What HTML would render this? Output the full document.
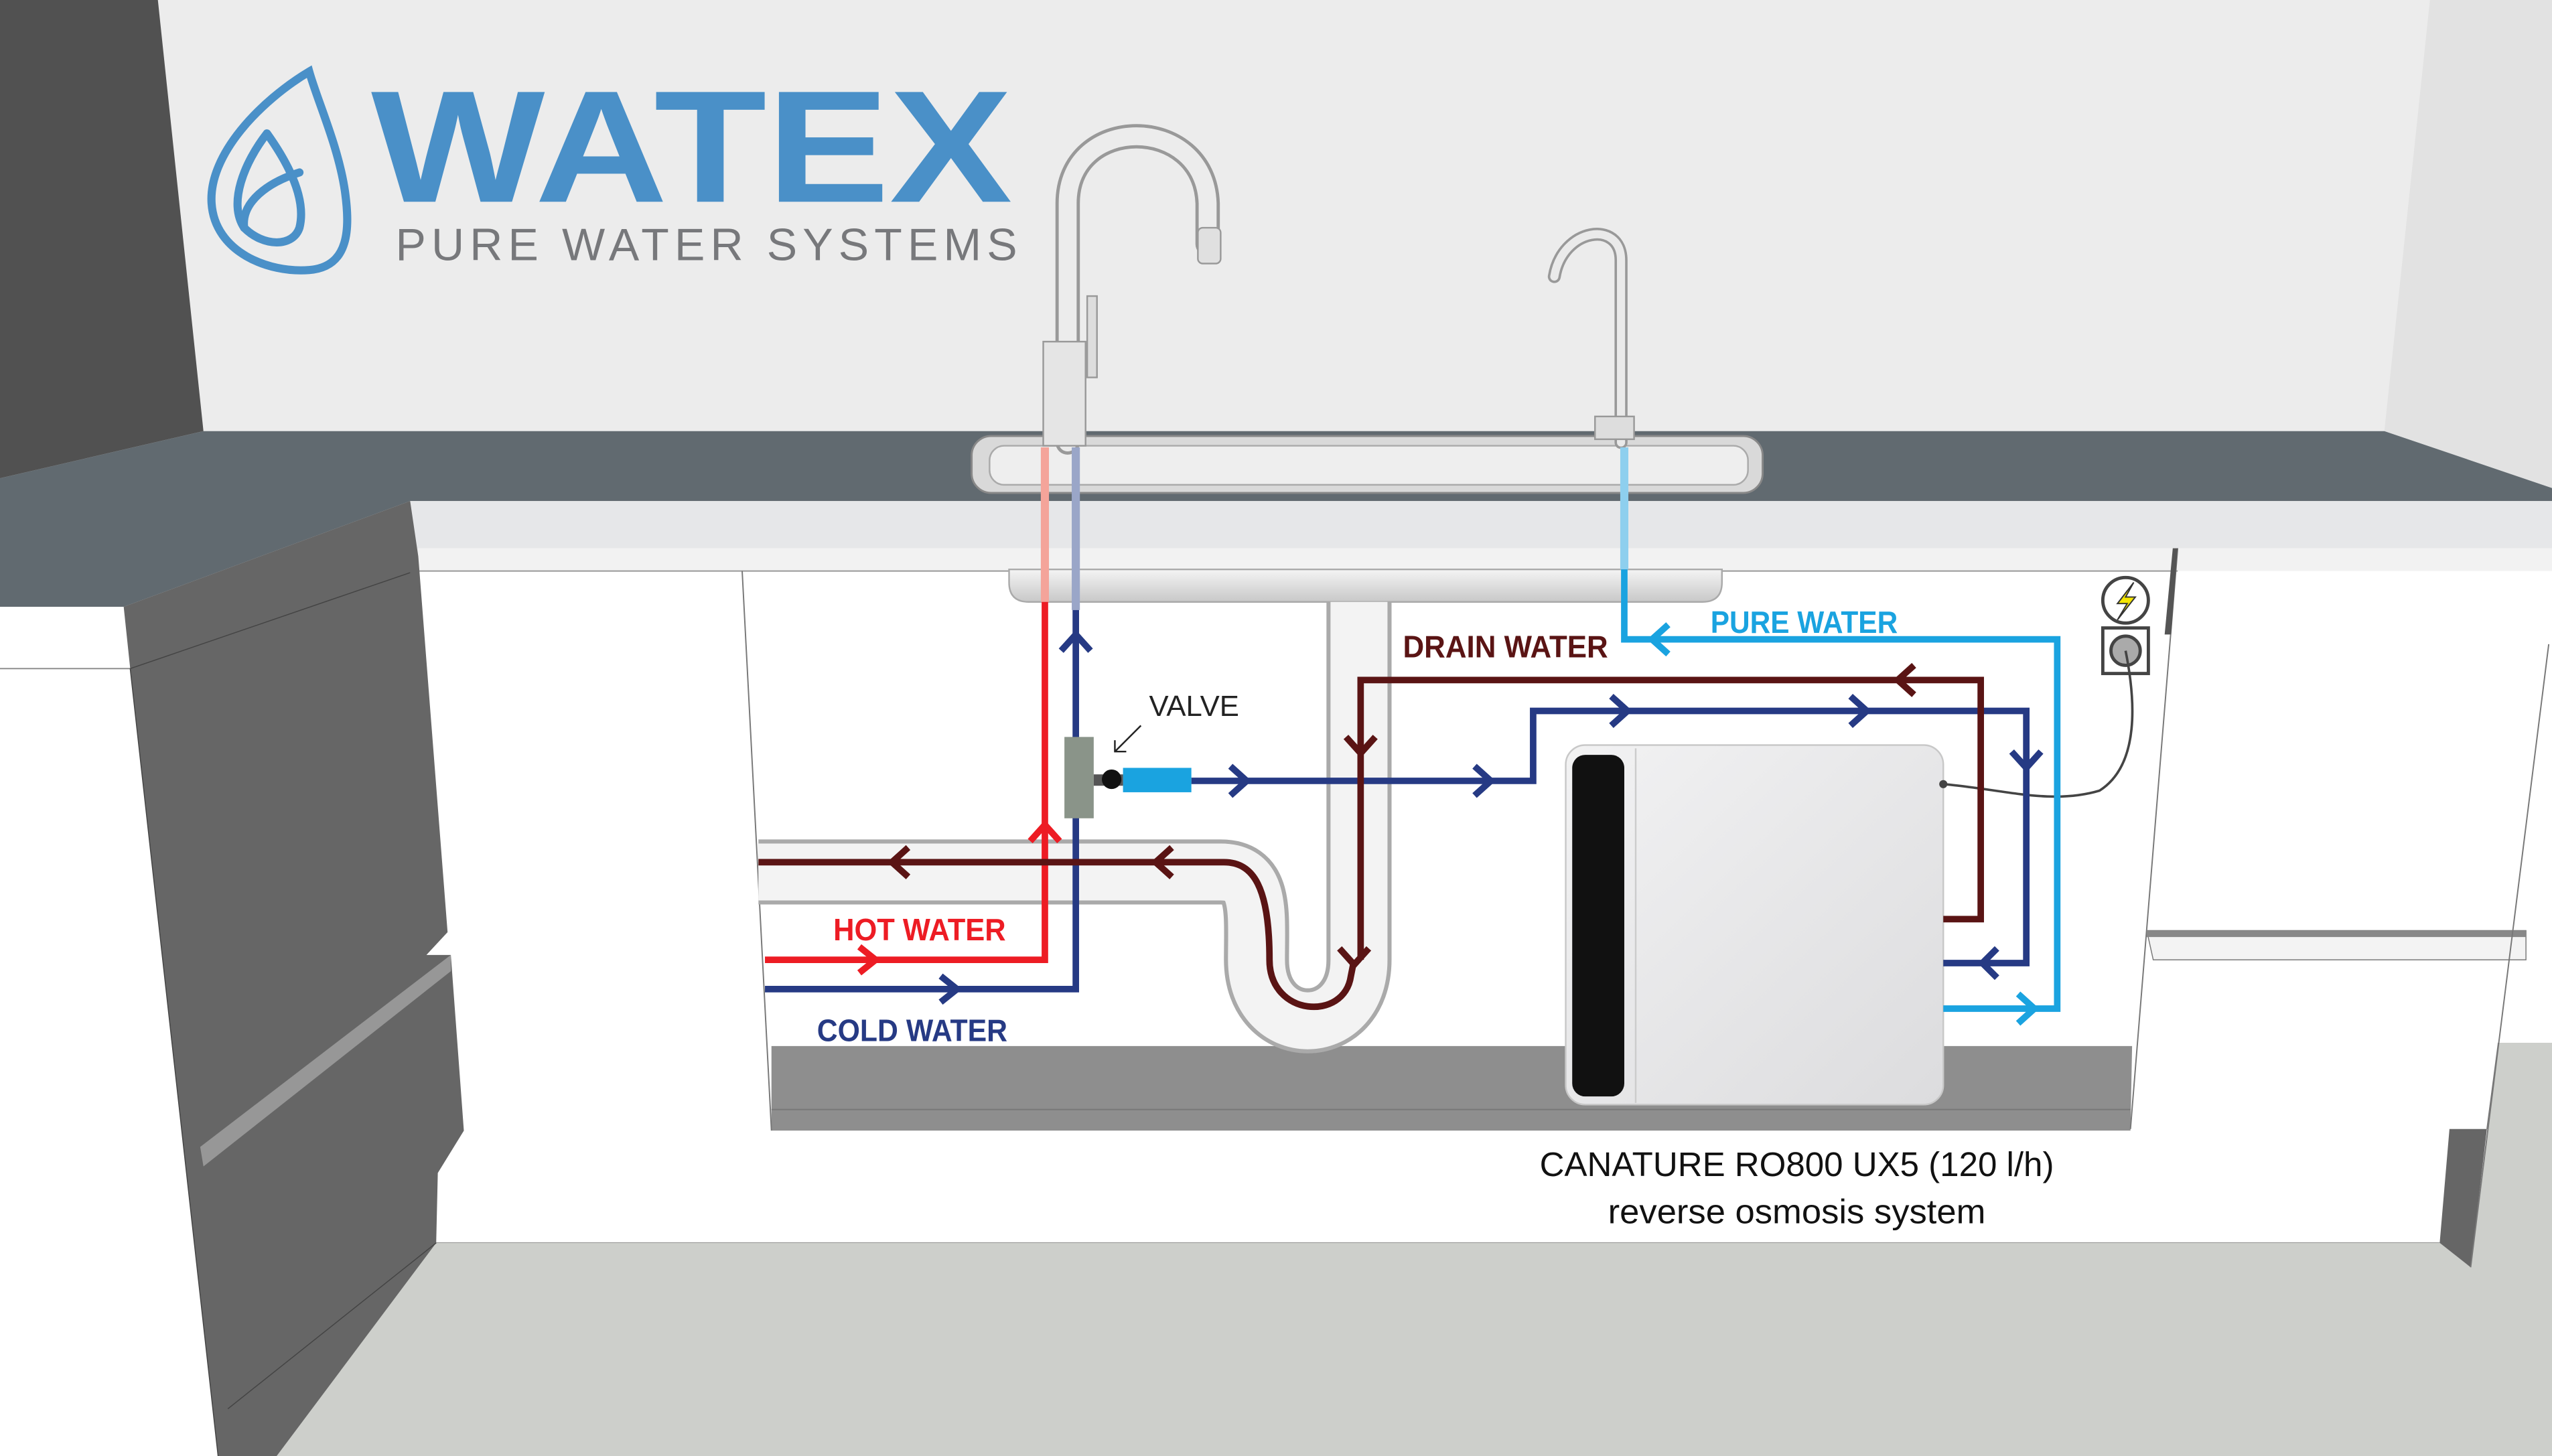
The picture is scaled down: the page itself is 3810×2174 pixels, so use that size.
<!DOCTYPE html>
<html><head><meta charset="utf-8"><style>html,body{margin:0;padding:0;background:#fff}svg{display:block}</style></head>
<body>
<svg width="3810" height="2174" viewBox="0 0 1568 895" preserveAspectRatio="none" xmlns="http://www.w3.org/2000/svg" font-family="'Liberation Sans', sans-serif">
<defs>
<linearGradient id="ro" x1="0" y1="0" x2="1" y2="1"><stop offset="0" stop-color="#f2f2f3"/><stop offset="1" stop-color="#dcdcde"/></linearGradient>
<linearGradient id="basin" x1="0" y1="0" x2="0" y2="1"><stop offset="0" stop-color="#f4f4f4"/><stop offset="1" stop-color="#c8c8c8"/></linearGradient>
</defs>
<rect x="0" y="0" width="1568" height="895" fill="#ececec"/>
<polygon points="1493,0 1568,0 1568,300 1465,265" fill="#e2e2e2"/>
<polygon points="0,0 97,0 125,265 0,294" fill="#515151"/>
<rect x="0" y="373" width="1568" height="522" fill="#ffffff"/>
<polygon points="125,265 1465,265 1568,300 1568,308 252,308 76,373 0,373 0,294" fill="#616a70"/>
<rect x="252" y="308" width="1316" height="29" fill="#e6e7e9"/>
<rect x="257" y="337" width="1311" height="14" fill="#f2f2f2"/>
<rect x="257" y="351" width="1311" height="22" fill="#ffffff"/>
<line x1="257" y1="351" x2="1338" y2="351" stroke="#999" stroke-width="0.8"/>
<line x1="0" y1="411" x2="80" y2="411" stroke="#888" stroke-width="0.8"/>
<path d="M620,350 L1058,350 L1058,358 Q1058,370 1046,370 L632,370 Q620,370 620,358 Z" fill="url(#basin)" stroke="#aaa" stroke-width="1"/>
<polygon points="474,643 1310,643 1309,695 474,695" fill="#8e8e8e"/>
<line x1="474" y1="682" x2="1309" y2="682" stroke="#777" stroke-width="0.8"/>
<line x1="456" y1="351" x2="474" y2="695" stroke="#777" stroke-width="0.8"/>
<polygon points="266,695 1505,695 1499,764 266,764" fill="#ffffff"/>
<line x1="266" y1="764" x2="1499" y2="764" stroke="#888" stroke-width="0.8"/>
<polygon points="170,895 266,764 1499,764 1518,779 1535,641 1568,641 1568,895" fill="#cdcfcb"/>
<polygon points="76,373 252,308 257,342 275,573 262,587 277,587 285,695 269,721 268,764 170,895 134,895 80,411" fill="#666"/>
<line x1="80" y1="411" x2="252" y2="352" stroke="#444" stroke-width="0.6"/>
<polygon points="123,705 277,587 277,597 125,717" fill="#979797"/>
<line x1="140" y1="866" x2="268" y2="764" stroke="#444" stroke-width="0.6"/>
<line x1="80" y1="411" x2="134" y2="895" stroke="#444" stroke-width="0.6"/>
<line x1="1338" y1="337" x2="1309" y2="694" stroke="#777" stroke-width="0.8"/>
<polygon points="1335,337 1338,337 1334,390 1330,390" fill="#555"/>
<polygon points="1319,572 1552,572 1552,590 1323,590" fill="#f3f3f3" stroke="#777" stroke-width="0.6"/>
<polygon points="1319,572 1552,572 1552,576 1319,576" fill="#888"/>
<polygon points="1505,694 1528,694 1518,779 1499,764" fill="#666"/>
<line x1="1566" y1="396" x2="1518" y2="779" stroke="#777" stroke-width="0.8"/>
<line x1="1528" y1="694" x2="1535" y2="641" stroke="#777" stroke-width="0.6"/>
<g fill="none" stroke="#4a90c8" stroke-width="5" stroke-linecap="round">
<path d="M190,44 C160,62 128,95 130,125 C132,155 165,168 190,166 C215,164 215,140 212,118 C208,90 195,62 190,44 Z"/>
<path d="M164,82 C150,100 140,125 150,140 C162,152 180,152 184,140 C187,128 184,110 164,82"/>
<path d="M184,106 C165,112 148,124 150,140"/>
</g>
<text x="228" y="124" font-size="98" font-weight="bold" fill="#4a90c8" textLength="394" lengthAdjust="spacingAndGlyphs">WATEX</text>
<text x="243" y="160" font-size="28" fill="#77787b" textLength="382" lengthAdjust="spacing">PURE WATER SYSTEMS</text>
<rect x="597" y="268" width="486" height="35" rx="12" fill="#d9d9d9" stroke="#888" stroke-width="1.2"/>
<rect x="608" y="274" width="466" height="24" rx="9" fill="#eeeeee" stroke="#aaa" stroke-width="1"/>
<g fill="none" stroke-linecap="round">
<path d="M656,272 L656,125 C656,70 740,70 742,125 L742,150" stroke="#999" stroke-width="15"/>
<path d="M656,272 L656,125 C656,70 740,70 742,125 L742,150" stroke="#ececec" stroke-width="11"/>
</g>
<rect x="641" y="210" width="26" height="64" fill="#e5e5e5" stroke="#999"/>
<rect x="668" y="182" width="6" height="50" fill="#ddd" stroke="#999"/>
<rect x="736" y="140" width="14" height="22" rx="3" fill="#e0e0e0" stroke="#999"/>
<g fill="none" stroke-linecap="round">
<path d="M996,272 L996,160 C996,135 960,140 955,170" stroke="#999" stroke-width="8"/>
<path d="M996,272 L996,160 C996,135 960,140 955,170" stroke="#eaeaea" stroke-width="5"/>
</g>
<rect x="980" y="256" width="24" height="14" fill="#ddd" stroke="#999"/>
<g fill="none" stroke-linejoin="round">
<path d="M466,536 L750,536 C775,536 772,560 772,590 C772,640 835,640 835,590 L835,370" stroke="#aaa" stroke-width="40"/>
<path d="M466,536 L750,536 C775,536 772,560 772,590 C772,640 835,640 835,590 L835,370" stroke="#f3f3f3" stroke-width="35"/>
</g>
<rect x="962" y="458" width="232" height="221" rx="12" fill="url(#ro)" stroke="#c8c8c8"/>
<rect x="966" y="464" width="32" height="210" rx="8" fill="#111"/>
<line x1="1005" y1="460" x2="1005" y2="678" stroke="#ccc"/>
<circle cx="1306" cy="369" r="14" fill="#fff" stroke="#444" stroke-width="2"/>
<path d="M1311,358 L1301,371 L1307,371 L1301,381 L1312,367 L1306,367 Z" fill="#f5e600" stroke="#333" stroke-width="0.8"/>
<rect x="1292" y="386" width="28" height="28" fill="#fff" stroke="#444" stroke-width="2"/>
<circle cx="1306" cy="400" r="9" fill="#aaa" stroke="#444" stroke-width="2"/>
<path d="M1306,400 C1312,430 1315,470 1290,486 C1260,495 1230,485 1194,482" fill="none" stroke="#444" stroke-width="1.5"/>
<circle cx="1194" cy="482" r="2.5" fill="#444"/>
<g fill="none" stroke-width="4" stroke-linejoin="miter">
<path d="M642,275 L642,370" stroke="#f4a49a" stroke-width="5"/>
<path d="M661,275 L661,375" stroke="#9aa6c8" stroke-width="5"/>
<path d="M998,275 L998,350" stroke="#8ecfee" stroke-width="5"/>
<path d="M470,590 L642,590 L642,370" stroke="#ed1c24"/>
<path d="M470,608 L661,608 L661,375" stroke="#263a84"/>
<path d="M732,480 L942,480 L942,437 L1245,437 L1245,592 L1194,592" stroke="#263a84"/>
<path d="M998,350 L998,393 L1264,393 L1264,620 L1194,620" stroke="#1aa3e0"/>
<path d="M1194,565 L1217,565 L1217,418 L836,418 L836,590" stroke="#5a1414"/>
<path d="M466,530 L752,530 C770,530 780,545 780,590 C780,625 826,628 830,600 L832,590" stroke="#5a1414"/>
</g>
<g fill="none" stroke-width="4">
<path d="M633,517 L642,507 L651,517" stroke="#ed1c24"/>
<path d="M528,582 L538,590 L528,598" stroke="#ed1c24"/>
<path d="M652,400 L661,390 L670,400" stroke="#263a84"/>
<path d="M578,600 L588,608 L578,616" stroke="#263a84"/>
<path d="M756,471 L766,480 L756,489" stroke="#263a84"/>
<path d="M906,471 L916,480 L906,489" stroke="#263a84"/>
<path d="M990,428 L1000,437 L990,446" stroke="#263a84"/>
<path d="M1137,428 L1147,437 L1137,446" stroke="#263a84"/>
<path d="M1236,462 L1245,472 L1254,462" stroke="#263a84"/>
<path d="M1227,583 L1218,592 L1227,601" stroke="#263a84"/>
<path d="M1025,384 L1015,393 L1025,402" stroke="#1aa3e0"/>
<path d="M1240,611 L1250,620 L1240,629" stroke="#1aa3e0"/>
<path d="M1176,409 L1166,418 L1176,427" stroke="#5a1414"/>
<path d="M827,453 L836,463 L845,453" stroke="#5a1414"/>
<path d="M823,583 L832,593 L841,583" stroke="#5a1414"/>
<path d="M558,521 L548,530 L558,539" stroke="#5a1414"/>
<path d="M720,521 L710,530 L720,539" stroke="#5a1414"/>
</g>
<rect x="654" y="453" width="18" height="50" fill="#8a9489"/>
<rect x="690" y="472" width="42" height="15" fill="#1aa3e0"/>
<rect x="672" y="476" width="18" height="7" fill="#555"/>
<circle cx="683" cy="479" r="6" fill="#111"/>
<text x="706" y="440" font-size="18" fill="#222">VALVE</text>
<path d="M701,446 L685,462 M685,455 L685,462 L692,462" fill="none" stroke="#222" stroke-width="1"/>
<g font-weight="bold" font-size="19">
<text x="862" y="404" fill="#5a1414" textLength="126" lengthAdjust="spacingAndGlyphs">DRAIN WATER</text>
<text x="1051" y="389" fill="#1aa3e0" textLength="115" lengthAdjust="spacingAndGlyphs">PURE WATER</text>
<text x="512" y="578" fill="#ed1c24" textLength="106" lengthAdjust="spacingAndGlyphs">HOT WATER</text>
<text x="502" y="640" fill="#263a84" textLength="117" lengthAdjust="spacingAndGlyphs">COLD WATER</text>
</g>
<text x="1104" y="723" font-size="21" fill="#111" text-anchor="middle" textLength="316" lengthAdjust="spacingAndGlyphs">CANATURE RO800 UX5 (120 l/h)</text>
<text x="1104" y="752" font-size="21" fill="#111" text-anchor="middle" textLength="232" lengthAdjust="spacingAndGlyphs">reverse osmosis system</text>
</svg>
</body></html>
